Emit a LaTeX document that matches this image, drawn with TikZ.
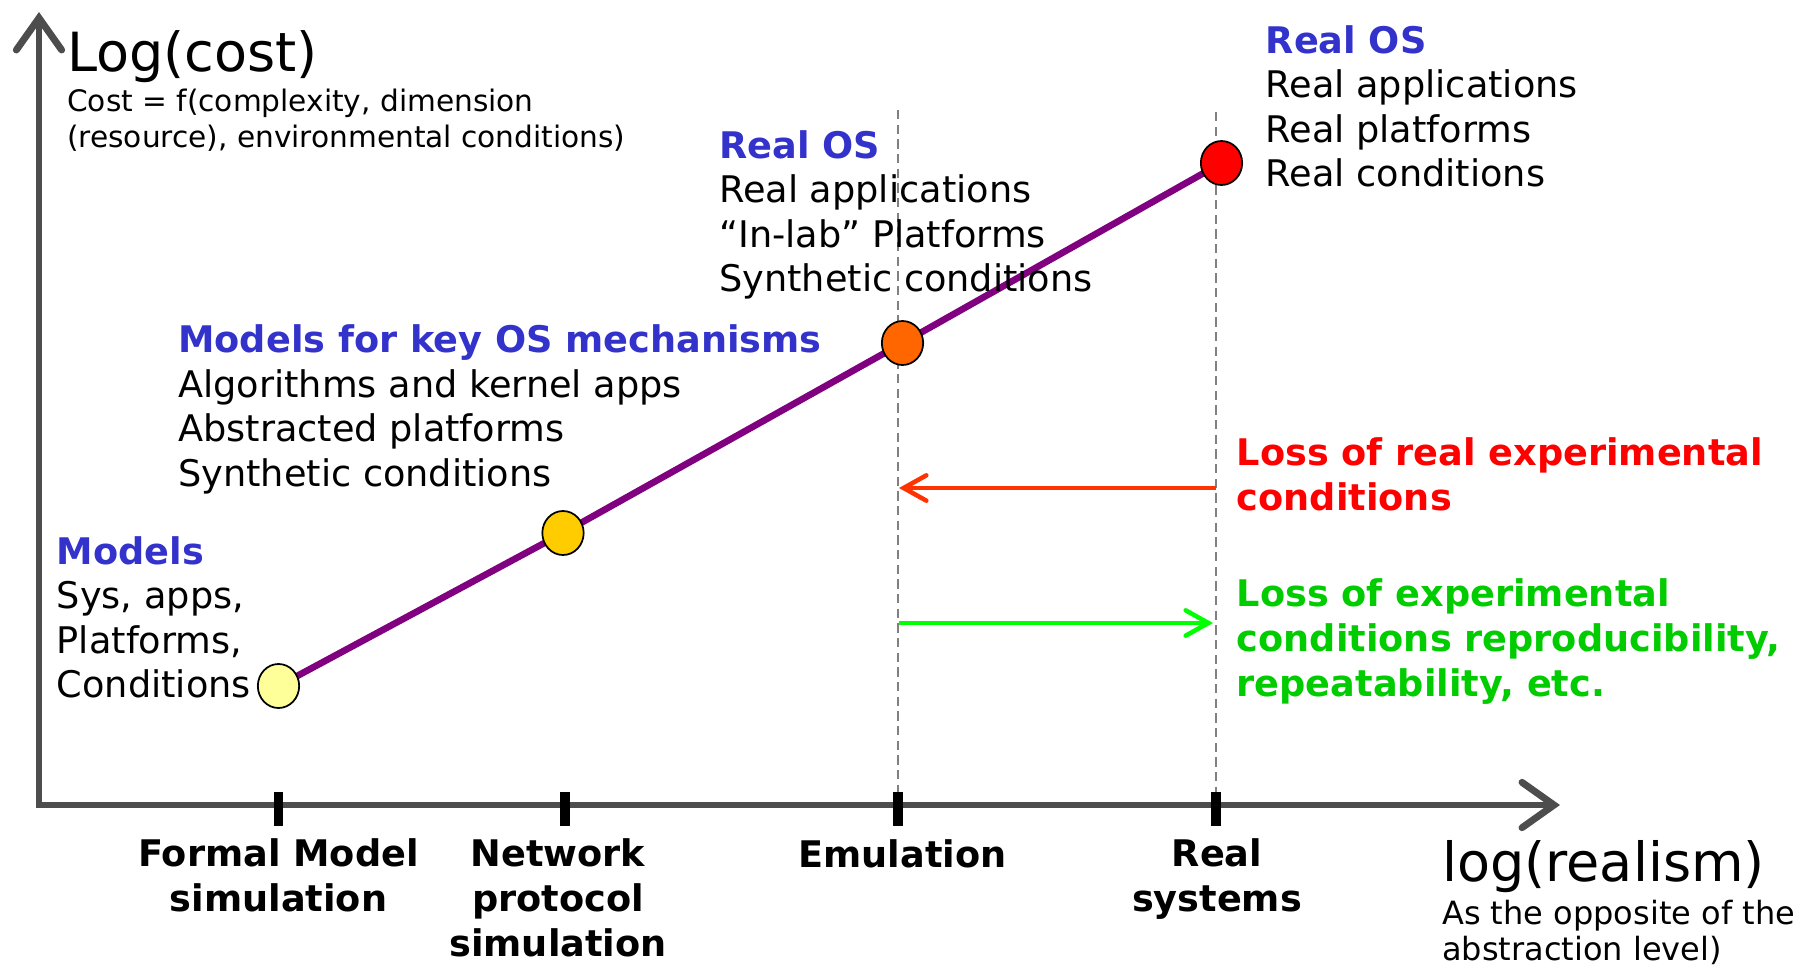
\documentclass[tikz,border=0pt]{standalone}
\usepackage{fontspec}
\setmainfont{DejaVu Sans}
\usetikzlibrary{arrows.meta,shapes.geometric,backgrounds}

\definecolor{axisgray}{HTML}{4D4D4D}
\definecolor{guidegray}{HTML}{808080}
\definecolor{osblue}{HTML}{3333CC}
\definecolor{lossred}{HTML}{FF0000}
\definecolor{arrowred}{HTML}{FF3300}
\definecolor{lossgreen}{HTML}{00CC00}
\definecolor{arrowgreen}{HTML}{00FF00}
\definecolor{trendpurple}{HTML}{800080}
\definecolor{dotyellow}{HTML}{FFFF99}
\definecolor{dotgold}{HTML}{FFCC00}
\definecolor{dotorange}{HTML}{FF6600}
\definecolor{dotred}{HTML}{FF0000}

\newcommand{\bigtxt}{\fontsize{40.5}{48}\selectfont}
\newcommand{\bodytxt}{\fontsize{27.5}{33.4}\selectfont}
\newcommand{\smalltxt}{\fontsize{22.2}{27}\selectfont}
\newcommand{\notetxt}{\fontsize{24}{27}\selectfont}

\tikzset{
  txt/.style={inner sep=0pt, align=left, anchor=base west, font=\bodytxt},
  axislbl/.style={inner sep=0pt, align=center, anchor=base, font=\bodytxt\bfseries},
  losstxt/.style={txt, font=\bodytxt\bfseries},
  axis/.style={draw=axisgray, line width=5.2pt, line join=miter,
    {Straight Barb[length=24pt,width=34pt,line cap=round]}-{Straight Barb[length=24pt,width=34pt,line cap=round]}},
  tick/.style={draw=black, line width=7pt},
  guide/.style={draw=guidegray, line width=1.1pt, dash pattern=on 7pt off 4pt},
  trend/.style={draw=trendpurple, line width=5pt},
  dot/.style={ellipse, draw=black, line width=1.3pt, inner sep=0pt, minimum width=31pt, minimum height=33pt},
  lossarrow/.style={line width=3.4pt, -{Straight Barb[length=17pt,width=19pt,line cap=round]}}
}

\begin{document}
\begin{tikzpicture}[x=0.75pt,y=0.75pt,yscale=-1,xscale=1]
\useasboundingbox (0,0) rectangle (1812,967);

%Axes
\coordinate (ytip) at (39,12);
\coordinate (origin) at (39,805);
\coordinate (xtip) at (1560,805);
\draw[axis] (ytip) -- (origin) -- (xtip);

%Guides
\draw[guide] (898,110) -- (898,792);
\draw[guide] (1216,112) -- (1216,792);

%Ticks
\foreach \x in {278.5,565,898,1216}
  \draw[tick] (\x,792) -- (\x,826);

%Dots
\node[dot, fill=dotyellow] (fm) at (278.5,686) {};
\node[dot, fill=dotgold] (ns) at (563,533) {};
\node[dot, fill=dotorange] (em) at (902.5,343) {};
\node[dot, fill=dotred] (rs) at (1221.5,163) {};
\begin{scope}[on background layer]
\draw[trend] (fm.center) -- (ns.center) -- (em.center) -- (rs.center);
\end{scope}

%Loss arrows
\coordinate (redstart) at (1216,488);
\coordinate (redend) at (899,488);
\coordinate (greenstart) at (899,623);
\coordinate (greenend) at (1213,623);
\draw[lossarrow, arrowred] (redstart) -- (redend);
\draw[lossarrow, arrowgreen] (greenstart) -- (greenend);

% Text Node (anchored at baseline of last line)
\node[txt, font=\bigtxt] (costlbl) at (67,71.6) {Log(cost)};
% Text Node
\node[txt, font=\smalltxt] (costdef) at (67,147) {Cost = f(complexity, dimension\\(resource), environmental conditions)};
% Text Node
\node[txt] (realtxt) at (1265.5,186.6) {\textcolor{osblue}{\bfseries Real OS}\\Real applications\\Real platforms\\Real conditions};
% Text Node
\node[txt] (emtxt) at (719,291.6) {\textcolor{osblue}{\bfseries Real OS}\\Real applications\\“In-lab” Platforms\\Synthetic conditions};
% Text Node
\node[txt] (nstxt) at (178,486.1) {\textcolor{osblue}{\bfseries Models for key OS mechanisms}\\Algorithms and kernel apps\\Abstracted platforms\\Synthetic conditions};
% Text Node
\node[txt] (fmtxt) at (56.6,697.6) {\textcolor{osblue}{\bfseries Models}\\Sys, apps,\\Platforms,\\Conditions};
% Text Node
\node[losstxt, text=lossred] (redtxt) at (1236.5,510.5) {Loss of real experimental\\conditions};
% Text Node
\node[losstxt, text=lossgreen] (greentxt) at (1236.5,696) {Loss of experimental\\conditions reproducibility,\\repeatability, etc.};

% Axis labels
\node[axislbl] (fmlbl) at (278.5,911.5) {Formal Model\\simulation};
\node[axislbl] (nslbl) at (558,956) {Network\\protocol\\simulation};
\node[axislbl] (emlbl) at (902.5,867) {Emulation};
\node[axislbl] (rslbl) at (1217,911.5) {Real\\systems};
% Text Node
\node[txt, font=\bigtxt] (realismlbl) at (1442,881) {log(realism)};
\node[txt, font=\notetxt] (realismdef) at (1442,960) {As the opposite of the\\abstraction level)};

\end{tikzpicture}
\end{document}
